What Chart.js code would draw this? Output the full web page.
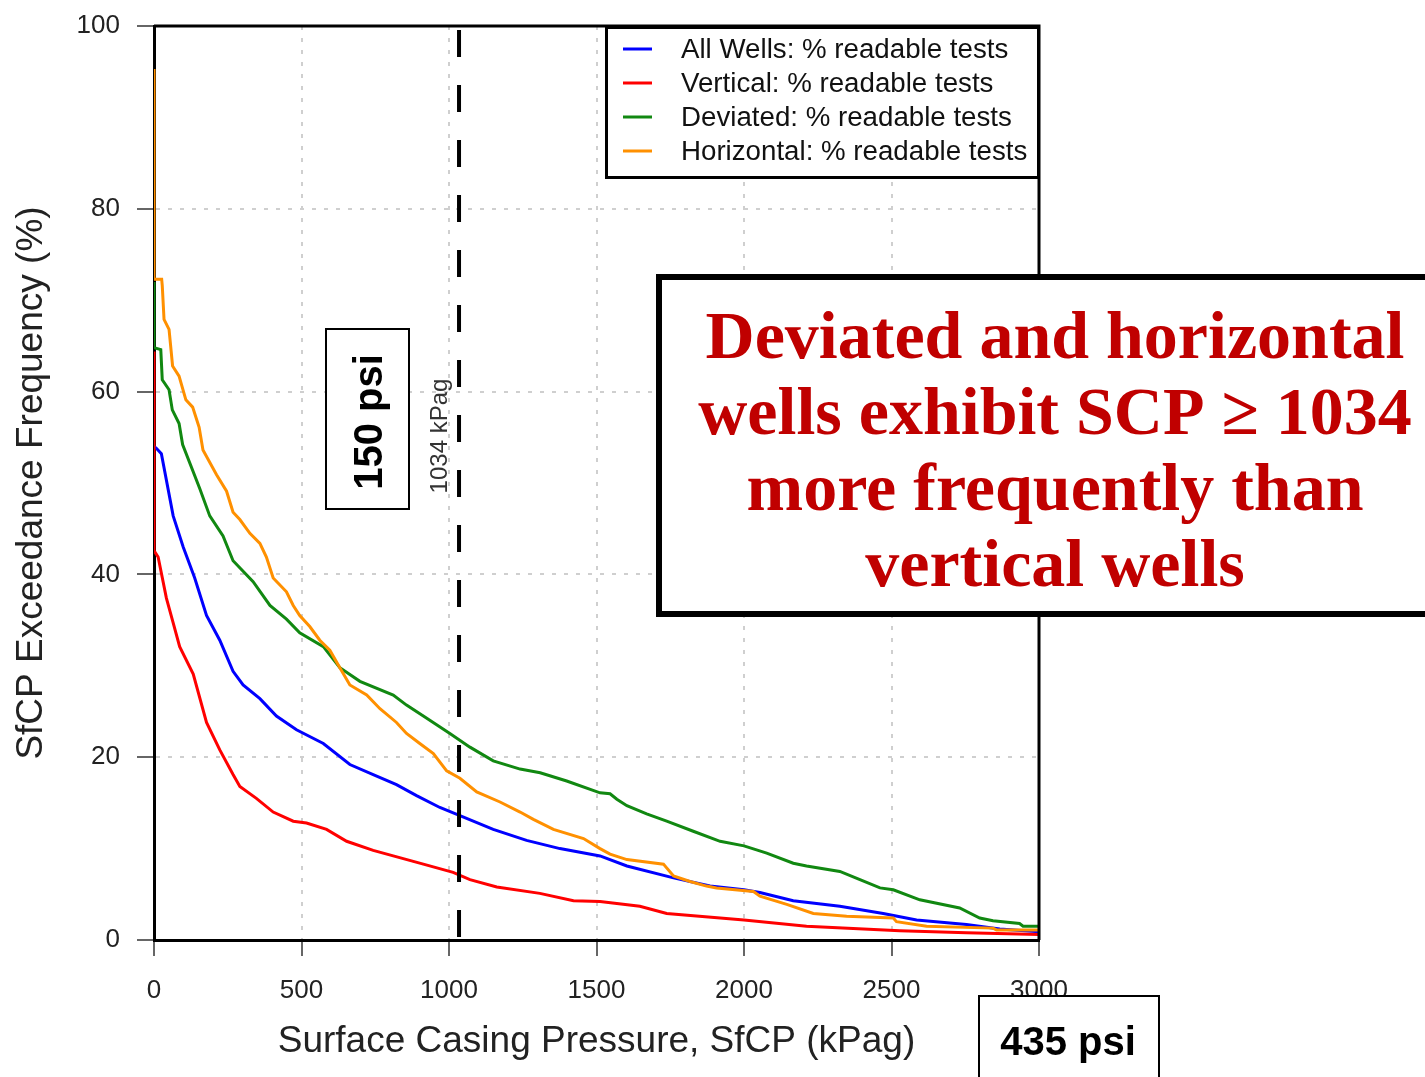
<!DOCTYPE html>
<html>
<head>
<meta charset="utf-8">
<script src="https://cdn.jsdelivr.net/npm/chart.js@4/dist/chart.umd.min.js"></script>
<style>
  html, body { margin: 0; padding: 0; background: #fff; }
  canvas { display: block; }
</style>
</head>
<body>
<canvas id="grafico" width="1425" height="1077" style="width:1425px;height:1077px"></canvas>
<script>
/* ===============================
   DADOS
================================ */

const xTicks = [0, 500, 1000, 1500, 2000, 2500, 3000];
const yTicks = [0, 20, 40, 60, 80, 100];

const allX = [0, 8, 25, 65, 99, 138, 178, 223, 268, 302, 359, 415, 483, 574, 664, 743, 822, 890, 969, 1037, 1150, 1263, 1376, 1512, 1603, 1761, 1885, 2000, 2054, 2167, 2325, 2472, 2585, 2754, 2867, 3000];
const allY = [54.0, 53.8, 53.2, 46.4, 43.0, 39.6, 35.5, 32.8, 29.4, 27.9, 26.4, 24.5, 23.0, 21.5, 19.2, 18.1, 17.0, 15.8, 14.5, 13.6, 12.1, 10.9, 10.0, 9.2, 8.1, 6.8, 5.9, 5.5, 5.2, 4.3, 3.7, 2.9, 2.2, 1.7, 1.2, 0.9];

const vertX = [0, 0, 14, 42, 65, 87, 133, 178, 223, 268, 291, 347, 404, 472, 517, 585, 653, 743, 811, 913, 1014, 1071, 1162, 1308, 1422, 1512, 1647, 1738, 2000, 2212, 2528, 2754, 3000];
const vertY = [64.4, 42.6, 41.9, 37.4, 34.7, 32.1, 29.1, 23.8, 20.8, 18.1, 16.8, 15.5, 14.0, 13.0, 12.8, 12.1, 10.8, 9.8, 9.2, 8.3, 7.4, 6.6, 5.8, 5.1, 4.3, 4.2, 3.7, 2.9, 2.2, 1.5, 1.0, 0.8, 0.6];

const devX = [0, 0, 23, 28, 51, 62, 85, 97, 155, 189, 234, 268, 336, 393, 449, 494, 574, 630, 698, 811, 856, 913, 1003, 1071, 1150, 1241, 1309, 1399, 1512, 1546, 1569, 1603, 1670, 1738, 1828, 1919, 2000, 2077, 2167, 2212, 2325, 2393, 2461, 2506, 2596, 2731, 2799, 2844, 2934, 2946, 3000];
const devY = [72.0, 64.8, 64.6, 61.3, 60.2, 58.0, 56.5, 54.2, 49.4, 46.4, 44.2, 41.5, 39.2, 36.6, 35.1, 33.6, 32.1, 29.8, 28.3, 26.8, 25.7, 24.5, 22.6, 21.1, 19.6, 18.7, 18.3, 17.4, 16.1, 16.0, 15.4, 14.7, 13.8, 13.0, 11.9, 10.8, 10.3, 9.5, 8.4, 8.1, 7.5, 6.6, 5.7, 5.5, 4.4, 3.5, 2.4, 2.1, 1.8, 1.5, 1.5];

const horX = [0, 0, 26, 28, 34, 51, 63, 85, 108, 131, 153, 166, 212, 246, 268, 291, 325, 359, 381, 404, 449, 472, 494, 528, 562, 596, 630, 664, 721, 766, 822, 856, 901, 947, 992, 1037, 1094, 1173, 1241, 1286, 1354, 1456, 1512, 1546, 1603, 1727, 1761, 1817, 1873, 1907, 2032, 2054, 2145, 2235, 2348, 2506, 2517, 2619, 2844, 2856, 3000];
const horY = [95.3, 72.3, 72.3, 71.6, 67.9, 66.8, 62.8, 61.7, 59.1, 58.3, 56.1, 53.6, 50.9, 49.1, 46.8, 46.0, 44.5, 43.4, 41.9, 39.6, 38.1, 36.6, 35.5, 34.3, 32.8, 31.7, 29.8, 27.9, 26.8, 25.3, 23.8, 22.6, 21.5, 20.4, 18.5, 17.7, 16.2, 15.1, 14.0, 13.2, 12.1, 11.1, 10.0, 9.4, 8.8, 8.3, 7.0, 6.4, 5.9, 5.7, 5.3, 4.8, 3.9, 2.9, 2.6, 2.4, 2.0, 1.5, 1.3, 1.1, 1.1];

const seriesLabels = [
  'All Wells: % readable tests',
  'Vertical: % readable tests',
  'Deviated: % readable tests',
  'Horizontal: % readable tests'
];
const seriesColors = ['#0000ff', '#ff0000', '#118811', '#ff9000'];

const limiteKpa = 1034;
const limiteTexto = '1034 kPag';
const caixaPsi1 = '150 psi';
const caixaPsi2 = '435 psi';
const destaque = [
  'Deviated and horizontal',
  'wells exhibit SCP \u2265 1034',
  'more frequently than',
  'vertical wells'
];

/* ===============================
   MONTAGEM
================================ */

const pares = (xs, ys) => xs.map((x, i) => ({ x, y: ys[i] }));
const seriesData = [pares(allX, allY), pares(vertX, vertY), pares(devX, devY), pares(horX, horY)];

const SANS = "'Liberation Sans', Arial, sans-serif";
const NARROW = "'Liberation Sans Narrow', 'Liberation Sans', Arial, sans-serif";
Chart.defaults.font.family = SANS;

const anotacoes = {
  id: 'anotacoes',
  afterDatasetsDraw(chart) {
    const { ctx, chartArea: a, scales: { x } } = chart;
    const px = x.getPixelForValue(limiteKpa);

    // linha tracejada 1034 kPag
    ctx.save();
    ctx.strokeStyle = '#000';
    ctx.lineWidth = 4;
    ctx.setLineDash([27, 28]);
    ctx.beginPath();
    ctx.moveTo(px, a.top + 4);
    ctx.lineTo(px, a.bottom);
    ctx.stroke();
    ctx.restore();

    // bordas superior e direita
    ctx.save();
    ctx.strokeStyle = '#000';
    ctx.lineWidth = 3;
    ctx.beginPath();
    ctx.moveTo(a.left, a.top);
    ctx.lineTo(a.right, a.top);
    ctx.lineTo(a.right, a.bottom);
    ctx.stroke();
    ctx.restore();

    // rótulo da linha
    ctx.save();
    ctx.translate(px - 19, 436);
    ctx.rotate(-Math.PI / 2);
    ctx.fillStyle = '#333';
    ctx.font = '24px ' + SANS;
    ctx.textAlign = 'center';
    ctx.textBaseline = 'middle';
    ctx.fillText(limiteTexto, 0, 0);
    ctx.restore();
  },
  afterDraw(chart) {
    const { ctx, data } = chart;

    // legenda
    ctx.save();
    ctx.fillStyle = '#fff';
    ctx.fillRect(606, 27, 432, 151);
    ctx.strokeStyle = '#000';
    ctx.lineWidth = 3;
    ctx.strokeRect(606.5, 27.5, 432, 150);
    ctx.font = '27.7px ' + SANS;
    ctx.textBaseline = 'middle';
    data.datasets.forEach((ds, i) => {
      const y = 49 + i * 34;
      ctx.strokeStyle = ds.borderColor;
      ctx.lineWidth = 3;
      ctx.beginPath();
      ctx.moveTo(623, y);
      ctx.lineTo(652, y);
      ctx.stroke();
      ctx.fillStyle = '#111';
      ctx.fillText(ds.label, 681, y + 1);
    });
    ctx.restore();

    // caixa 150 psi
    ctx.save();
    ctx.fillStyle = '#fff';
    ctx.fillRect(326, 329, 83, 180);
    ctx.strokeStyle = '#000';
    ctx.lineWidth = 2;
    ctx.strokeRect(326, 329, 83, 180);
    ctx.translate(369, 422);
    ctx.rotate(-Math.PI / 2);
    ctx.fillStyle = '#000';
    ctx.font = 'bold 40px ' + NARROW;
    ctx.textAlign = 'center';
    ctx.textBaseline = 'middle';
    ctx.fillText(caixaPsi1, 0, 2);
    ctx.restore();

    // caixa 435 psi
    ctx.save();
    ctx.fillStyle = '#fff';
    ctx.fillRect(979, 996, 180, 100);
    ctx.strokeStyle = '#000';
    ctx.lineWidth = 2;
    ctx.strokeRect(979, 996, 180, 100);
    ctx.fillStyle = '#000';
    ctx.font = 'bold 40px ' + NARROW;
    ctx.textAlign = 'center';
    ctx.textBaseline = 'middle';
    ctx.fillText(caixaPsi2, 1068, 1044);
    ctx.restore();

    // caixa de destaque
    ctx.save();
    ctx.fillStyle = '#fff';
    ctx.fillRect(659, 277, 800, 337);
    ctx.strokeStyle = '#000';
    ctx.lineWidth = 6;
    ctx.strokeRect(659, 277, 800, 337);
    ctx.fillStyle = '#c00000';
    ctx.font = "bold 68px 'Liberation Serif', 'Times New Roman', serif";
    ctx.textAlign = 'center';
    ctx.textBaseline = 'alphabetic';
    destaque.forEach((linha, i) => ctx.fillText(linha, 1055, 358 + i * 76));
    ctx.restore();
  }
};

new Chart(document.getElementById('grafico'), {
  type: 'scatter',
  data: {
    datasets: seriesData.map((d, i) => ({
      label: seriesLabels[i],
      data: d,
      showLine: true,
      borderColor: seriesColors[i],
      backgroundColor: seriesColors[i],
      borderWidth: 3,
      pointRadius: 0,
      pointHoverRadius: 0,
      tension: 0,
      fill: false,
      order: 4 - i
    }))
  },
  options: {
    responsive: false,
    animation: false,
    events: [],
    layout: { padding: { left: 0, top: 26, right: 386, bottom: 0 } },
    plugins: {
      legend: { display: false },
      tooltip: { enabled: false }
    },
    scales: {
      x: {
        type: 'linear',
        min: 0,
        max: 3000,
        afterFit: s => { s.height = 137; s.paddingLeft = 0; s.paddingRight = 0; },
        afterBuildTicks: s => { s.ticks = xTicks.map(v => ({ value: v })); },
        ticks: {
          color: '#222',
          font: { size: 26 },
          padding: 19,
          maxRotation: 0,
          callback: v => String(v)
        },
        grid: {
          color: '#cfcfcf',
          lineWidth: 2,
          tickColor: '#333',
          tickWidth: 1.5,
          tickLength: 16,
          tickBorderDash: []
        },
        border: { display: true, color: '#000', width: 3, dash: [4, 8] },
        title: {
          display: true,
          text: 'Surface Casing Pressure, SfCP (kPag)',
          color: '#222',
          font: { size: 37 },
          padding: { top: 0, bottom: 13 }
        }
      },
      y: {
        type: 'linear',
        min: 0,
        max: 100,
        afterFit: s => { s.width = 154; s.paddingTop = 0; s.paddingBottom = 0; },
        afterBuildTicks: s => { s.ticks = yTicks.map(v => ({ value: v })); },
        ticks: {
          color: '#222',
          font: { size: 26 },
          padding: 17,
          callback: v => String(v)
        },
        grid: {
          color: '#cfcfcf',
          lineWidth: 2,
          tickColor: '#333',
          tickWidth: 1.5,
          tickLength: 17,
          tickBorderDash: []
        },
        border: { display: true, color: '#000', width: 3, dash: [4, 8] },
        title: {
          display: true,
          text: 'SfCP Exceedance Frequency (%)',
          color: '#222',
          font: { size: 37 },
          padding: { top: 10, bottom: 0 }
        }
      }
    }
  },
  plugins: [anotacoes]
});
</script>
</body>
</html>
